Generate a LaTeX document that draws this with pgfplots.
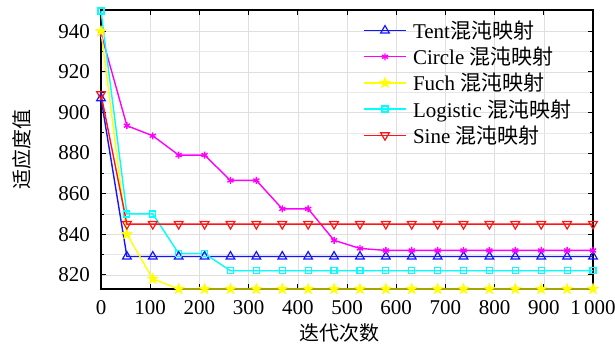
\documentclass[border=0pt]{standalone}
\usepackage{fontspec}
\setmainfont{Liberation Serif}
\newfontfamily\tnr{Liberation Serif}
\newfontfamily\cjk{Noto Sans CJK SC}
\usepackage{pgfplots}
\pgfplotsset{compat=1.18}
\usetikzlibrary{plotmarks}
\pgfdeclareplotmark{fstar}{%
  \pgfpathmoveto{\pgfpointpolar{90}{1.25\pgfplotmarksize}}%
  \pgfpathlineto{\pgfpointpolar{126}{0.5\pgfplotmarksize}}%
  \pgfpathlineto{\pgfpointpolar{162}{1.25\pgfplotmarksize}}%
  \pgfpathlineto{\pgfpointpolar{198}{0.5\pgfplotmarksize}}%
  \pgfpathlineto{\pgfpointpolar{234}{1.25\pgfplotmarksize}}%
  \pgfpathlineto{\pgfpointpolar{270}{0.5\pgfplotmarksize}}%
  \pgfpathlineto{\pgfpointpolar{306}{1.25\pgfplotmarksize}}%
  \pgfpathlineto{\pgfpointpolar{342}{0.5\pgfplotmarksize}}%
  \pgfpathlineto{\pgfpointpolar{18}{1.25\pgfplotmarksize}}%
  \pgfpathlineto{\pgfpointpolar{54}{0.5\pgfplotmarksize}}%
  \pgfpathclose
  \pgfusepathqfillstroke}
\definecolor{cBlue}{RGB}{20,20,255}
\definecolor{cMag}{RGB}{255,0,255}
\definecolor{cYel}{RGB}{255,255,0}
\definecolor{cCyan}{RGB}{0,255,255}
\definecolor{cRed}{RGB}{255,20,20}
\begin{document}
\begin{tikzpicture}
\begin{axis}[
  name=ax,
  scale only axis,
  width=492pt, height=279pt,
  xmin=0, xmax=1000, ymin=813, ymax=950.5,
  xtick={0,100,...,1000},
  ytick={820,840,...,940},
  xticklabel={\tnr\pgfmathprintnumber[assume math mode=true,1000 sep={\,}]{\tick}},
  yticklabel={\tnr\pgfmathprintnumber[assume math mode=true]{\tick}},
  minor y tick num=1,
  tick align=inside,
  major tick length=5pt, minor tick length=3pt,
  grid=both,
  major grid style={gray!25, line width=0.5pt},
  minor grid style={gray!18, line width=0.4pt},
  axis line style={black, line width=1.2pt},
  tick style={black, line width=0.8pt},
  ticklabel style={font=\tnr\fontsize{21}{22}\selectfont},
  yticklabel style={inner sep=0pt, xshift=-11pt},
  xticklabel style={inner sep=0pt, yshift=-11pt},
  xlabel={\cjk 迭代次数},
  ylabel={\cjk 适应度值},
  xlabel style={at={(axis description cs:0.484,-0.158)}, anchor=center},
  ylabel style={at={(axis description cs:-0.1606,0.5)}, anchor=center},
  label style={font=\fontsize{20}{22}\selectfont},
  clip=false,
  legend style={draw=none, fill=none, at={(axis description cs:0.53,0.972)}, anchor=north west,
    font=\tnr\fontsize{21}{22}\selectfont, row sep=3pt, column sep=4pt, inner sep=1pt},
  legend cell align=left,
  legend image code/.code={%
    \draw[mark repeat=2,mark phase=2] plot coordinates {(0cm,0cm) (0.75cm,0cm) (1.5cm,0cm)};},
  every axis plot/.append style={line width=1.4pt},
]
\addplot[cBlue, mark=triangle, mark size=5pt, mark options={solid, fill=white, line width=1.2pt}] coordinates {
(0,907) (52.63,829) (105.26,829) (157.89,829) (210.53,829) (263.16,829) (315.79,829) (368.42,829) (421.05,829) (473.68,829) (526.32,829) (578.95,829) (631.58,829) (684.21,829) (736.84,829) (789.47,829) (842.11,829) (894.74,829) (947.37,829) (1000,829)};
\addlegendentry{Tent{\cjk 混沌映射}}
\addplot[cMag, mark=asterisk, mark size=3.5pt, mark options={solid, line width=1.4pt}] coordinates {
(0,939) (52.63,893.5) (105.26,888.5) (157.89,879) (210.53,879) (263.16,866.5) (315.79,866.5) (368.42,852.5) (421.05,852.5) (473.68,837) (526.32,833) (578.95,832) (631.58,832) (684.21,832) (736.84,832) (789.47,832) (842.11,832) (894.74,832) (947.37,832) (1000,832)};
\addlegendentry{Circle {\cjk 混沌映射}}
\addplot[cYel, mark=fstar, mark size=4.5pt, mark options={solid, fill=cYel, line width=0.6pt}] coordinates {
(0,940) (52.63,840) (105.26,818) (157.89,813) (210.53,813) (263.16,813) (315.79,813) (368.42,813) (421.05,813) (473.68,813) (526.32,813) (578.95,813) (631.58,813) (684.21,813) (736.84,813) (789.47,813) (842.11,813) (894.74,813) (947.37,813) (1000,813)};
\addlegendentry{Fuch {\cjk 混沌映射}}
\addplot[cCyan, mark=square, mark size=3pt, mark options={solid, fill=white, line width=1.2pt}] coordinates {
(0,950) (52.63,850) (105.26,850) (157.89,830.5) (210.53,830.5) (263.16,822) (315.79,822) (368.42,822) (421.05,822) (473.68,822) (526.32,822) (578.95,822) (631.58,822) (684.21,822) (736.84,822) (789.47,822) (842.11,822) (894.74,822) (947.37,822) (1000,822)};
\addlegendentry{Logistic {\cjk 混沌映射}}
\addplot[cRed, mark=triangle, mark size=5pt, mark options={solid, fill=white, rotate=180, line width=1.2pt}] coordinates {
(0,909) (52.63,845) (105.26,845) (157.89,845) (210.53,845) (263.16,845) (315.79,845) (368.42,845) (421.05,845) (473.68,845) (526.32,845) (578.95,845) (631.58,845) (684.21,845) (736.84,845) (789.47,845) (842.11,845) (894.74,845) (947.37,845) (1000,845)};
\addlegendentry{Sine {\cjk 混沌映射}}
\end{axis}
\pgfresetboundingbox
\path ([shift={(-101pt,-59pt)}]ax.south west) rectangle ([shift={(22pt,10pt)}]ax.north east);
\end{tikzpicture}
\end{document}
